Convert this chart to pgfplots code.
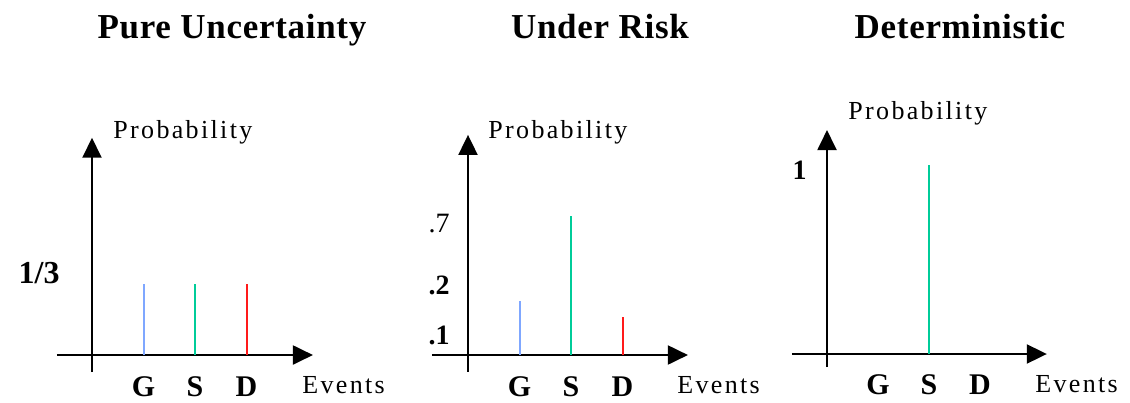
\documentclass[border=0pt]{standalone}
\usepackage{fontspec}
\setmainfont{Liberation Serif}
\newfontfamily\lblfont{Liberation Serif}[LetterSpace=9]
\newfontfamily\titlefont{Liberation Serif}[LetterSpace=2]
\usepackage{pgfplots}
\pgfplotsset{compat=1.18}
\usetikzlibrary{arrows.meta}
\definecolor{gblue}{HTML}{7FA7FF}
\definecolor{ggreen}{HTML}{00CC99}
\definecolor{gred}{HTML}{FF1A1A}
\pgfplotsset{
  panel/.style={
    axis lines=middle,
    clip=false,
    axis line style={line width=1pt, -{Triangle[length=10pt,width=9.5pt]}},
    major tick length=0pt,
    xtick={1,2,3},
    xticklabels={G,S,D},
    xticklabel style={anchor=base, inner sep=0pt, font=\fontsize{15}{16}\selectfont\bfseries},
    yticklabel style={anchor=east, inner sep=0pt},
  },
  bar/.style={ycomb, line width=1pt, mark=none},
}
\begin{document}
\begin{tikzpicture}
\useasboundingbox (0,0) rectangle (565pt,-201pt);
% Panel 1: Pure Uncertainty
\begin{axis}[panel, at={(46pt,-177.5pt)}, anchor=origin,
  x=25.75pt, y=106.5pt, xmin=-0.68, xmax=4.29, ymin=-0.08, ymax=1.02,
  xticklabel style={yshift=-20.5pt},
  ytick={0.3333}, yticklabels={1/3},
  yticklabel style={xshift=-16pt, yshift=5.5pt, font=\fontsize{16}{17}\selectfont\bfseries}]
\addplot[bar, gblue] coordinates {(1,0.3333)};
\addplot[bar, ggreen] coordinates {(2,0.3333)};
\addplot[bar, gred] coordinates {(3,0.3333)};
\end{axis}
% Panel 2: Under Risk
\begin{axis}[panel, at={(234pt,-177.5pt)}, anchor=origin,
  x=25.75pt, y=99.5pt, xmin=-0.70, xmax=4.27, ymin=-0.085, ymax=1.106,
  xticklabel style={yshift=-20.5pt},
  ytick={0.10,0.35,0.66}, yticklabels={\textbf{.1},\textbf{.2},.7},
  yticklabel style={xshift=-9pt, font=\fontsize{14}{15}\selectfont}]
\addplot[bar, gblue] coordinates {(1,0.27)};
\addplot[bar, ggreen] coordinates {(2,0.70)};
\addplot[bar, gred] coordinates {(3,0.19)};
\end{axis}
% Panel 3: Deterministic
\begin{axis}[panel, at={(413.5pt,-177pt)}, anchor=origin,
  x=25.5pt, y=94.5pt, xmin=-0.69, xmax=4.31, ymin=-0.069, ymax=1.185,
  xticklabel style={yshift=-20pt},
  ytick={1}, yticklabels={1},
  yticklabel style={xshift=-10pt, yshift=-2.5pt, font=\fontsize{14}{15}\selectfont\bfseries}]
\addplot[bar, ggreen] coordinates {(2,1)};
\end{axis}
\begin{scope}[x=0.5pt, y=-0.5pt]
  \node[anchor=base, inner sep=0pt, font=\titlefont\fontsize{17.5}{19}\selectfont\bfseries] at (232,38) {Pure Uncertainty};
  \node[anchor=base, inner sep=0pt, font=\titlefont\fontsize{17.5}{19}\selectfont\bfseries] at (600,38) {Under Risk};
  \node[anchor=base, inner sep=0pt, font=\titlefont\fontsize{17.5}{19}\selectfont\bfseries] at (960,38) {Deterministic};
  \node[anchor=base west, inner sep=0pt, font=\lblfont\fontsize{13}{14}\selectfont] at (113,138) {Probability};
  \node[anchor=base west, inner sep=0pt, font=\lblfont\fontsize{13}{14}\selectfont] at (488,138) {Probability};
  \node[anchor=base west, inner sep=0pt, font=\lblfont\fontsize{13}{14}\selectfont] at (848,119) {Probability};
  \node[anchor=base west, inner sep=0pt, font=\lblfont\fontsize{13}{14}\selectfont] at (302,393) {Events};
  \node[anchor=base west, inner sep=0pt, font=\lblfont\fontsize{13}{14}\selectfont] at (677,393) {Events};
  \node[anchor=base west, inner sep=0pt, font=\lblfont\fontsize{13}{14}\selectfont] at (1035,392) {Events};
\end{scope}
\end{tikzpicture}
\end{document}
